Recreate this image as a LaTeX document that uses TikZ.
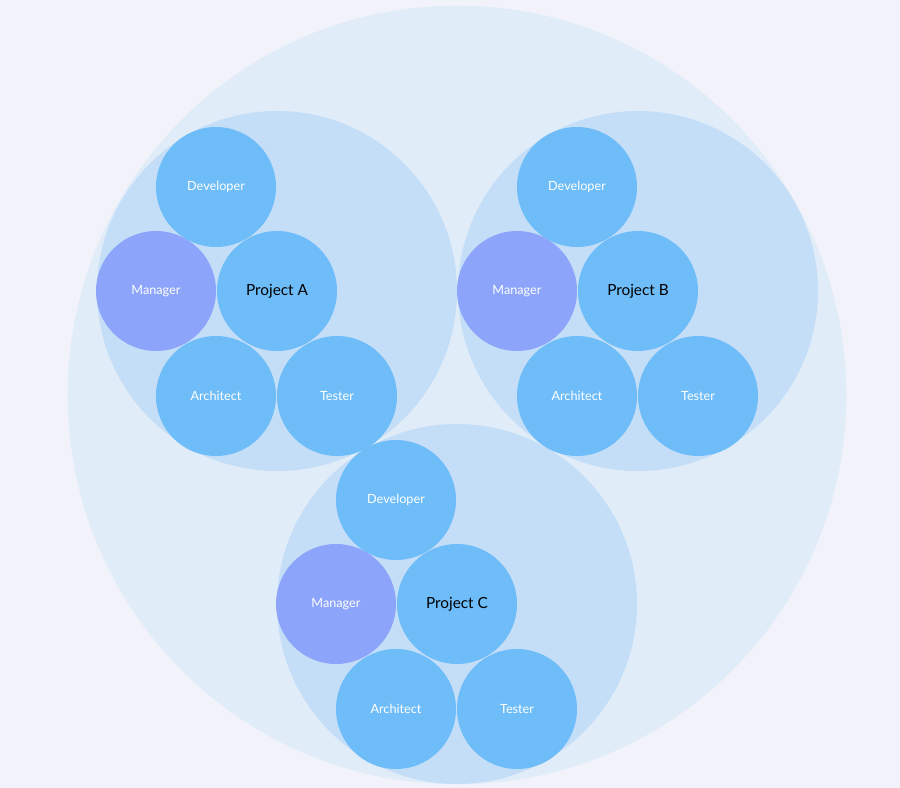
\documentclass[tikz,border=0pt]{standalone}
\usepackage{fontspec}
\setmainfont{Lato}
\usetikzlibrary{positioning}
\definecolor{pagebg}{HTML}{F2F3FA}
\definecolor{outerfill}{HTML}{E0ECF8}
\definecolor{groupfill}{HTML}{C4DEF8}
\definecolor{rolefill}{HTML}{6EBCF8}
\definecolor{mgrfill}{HTML}{8CA4FA}
\tikzset{
  role/.style={circle, fill=rolefill, minimum size=90pt, inner sep=0pt, text=white, font=\fontsize{9.5}{11}\selectfont},
  manager/.style={role, fill=mgrfill},
  project/.style={role, text=black, font=\fontsize{11.5}{13}\selectfont},
  group/.style={circle, fill=groupfill, minimum size=270pt, inner sep=0pt},
}
\begin{document}
\begin{tikzpicture}[x=0.75pt,y=-0.75pt]
  \fill[pagebg] (0,0) rectangle (900,788);
  \useasboundingbox (0,0) rectangle (900,788);
  \node[circle, fill=outerfill, minimum size=584pt, inner sep=0pt] (outer) at (457,395) {};

  % project groups
  \foreach \name/\cx/\cy in {A/277/291, B/638/291, C/457/604} {
    \node[group] (group\name) at (\cx,\cy) {};
  }
  \foreach \name/\cx/\cy in {A/277/291, B/638/291, C/457/604} {
    \node[project] (proj\name) at (\cx,\cy) {Project \name};
    \node[role] (dev\name) at ([shift={(-61,-104)}]\cx,\cy) {Developer};
    \node[manager] (mgr\name) at ([shift={(-121,0)}]\cx,\cy) {Manager};
    \node[role] (arch\name) at ([shift={(-61,105)}]\cx,\cy) {Architect};
    \node[role] (test\name) at ([shift={(60,105)}]\cx,\cy) {Tester};
  }
\end{tikzpicture}
\end{document}
